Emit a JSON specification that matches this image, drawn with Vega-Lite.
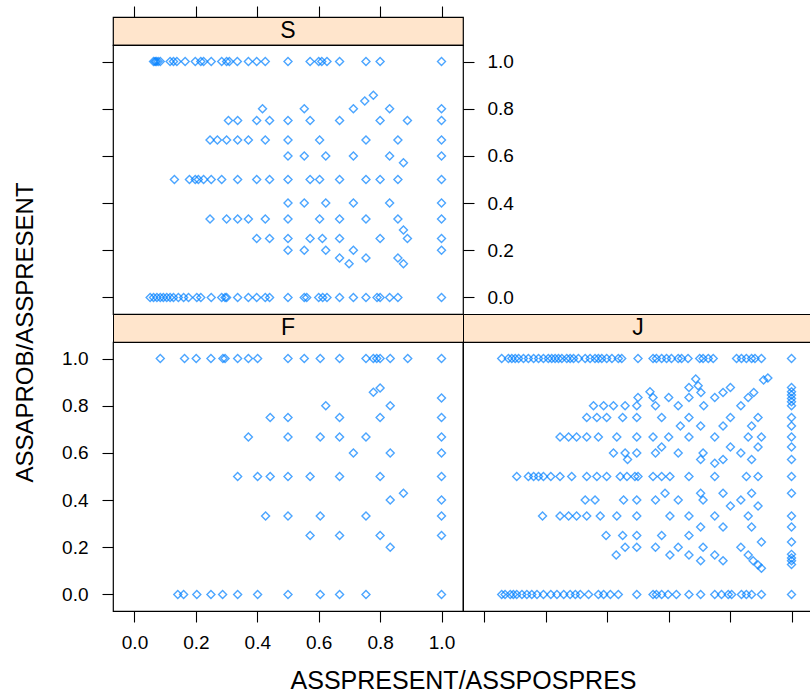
{
  "$schema": "https://vega.github.io/schema/vega-lite/v6.json",
  "padding": {"left": 12, "top": 4, "right": 0, "bottom": 0},
  "background": "white",
  "config": {
    "font": "Liberation Sans",
    "view": {"stroke": "black", "strokeWidth": 1.2},
    "axis": {"domain": false, "grid": false, "tickColor": "black", "tickSize": 11, "tickWidth": 1.1, "labelFont": "Liberation Sans", "labelFontSize": 19, "labelColor": "black", "titleFont": "Liberation Sans", "titleFontSize": 24, "titleFontWeight": "normal", "titleColor": "black"},
    "point": {"shape": "diamond", "filled": false, "color": "#0080ff", "size": 64, "strokeWidth": 1.4}
  },
  "datasets": {
    "S": [
      {"x":0.062,"y":1},{"x":0.067,"y":1},{"x":0.071,"y":1},{"x":0.077,"y":1},{"x":0.084,"y":1},{"x":0.116,"y":1},{"x":0.127,"y":1},{"x":0.138,"y":1},{"x":0.165,"y":1},{"x":0.198,"y":1},{"x":0.216,"y":1},{"x":0.225,"y":1},{"x":0.25,"y":1},{"x":0.284,"y":1},{"x":0.3,"y":1},{"x":0.309,"y":1},{"x":0.335,"y":1},{"x":0.371,"y":1},{"x":0.398,"y":1},{"x":0.426,"y":1},{"x":0.5,"y":1},{"x":0.572,"y":1},{"x":0.6,"y":1},{"x":0.61,"y":1},{"x":0.627,"y":1},{"x":0.668,"y":1},{"x":0.754,"y":1},{"x":0.8,"y":1},{"x":1,"y":1},
      {"x":0.778,"y":0.857},{"x":0.75,"y":0.833},
      {"x":0.417,"y":0.8},{"x":0.553,"y":0.8},{"x":0.713,"y":0.8},{"x":0.831,"y":0.8},{"x":1,"y":0.8},
      {"x":0.306,"y":0.75},{"x":0.336,"y":0.75},{"x":0.398,"y":0.75},{"x":0.44,"y":0.75},{"x":0.5,"y":0.75},{"x":0.572,"y":0.75},{"x":0.668,"y":0.75},{"x":0.8,"y":0.75},{"x":0.889,"y":0.75},{"x":1,"y":0.75},
      {"x":0.246,"y":0.667},{"x":0.27,"y":0.667},{"x":0.3,"y":0.667},{"x":0.336,"y":0.667},{"x":0.371,"y":0.667},{"x":0.426,"y":0.667},{"x":0.5,"y":0.667},{"x":0.603,"y":0.667},{"x":0.754,"y":0.667},{"x":0.858,"y":0.667},{"x":1,"y":0.667},
      {"x":0.5,"y":0.6},{"x":0.553,"y":0.6},{"x":0.623,"y":0.6},{"x":0.713,"y":0.6},{"x":0.831,"y":0.6},{"x":1,"y":0.6},
      {"x":0.876,"y":0.571},
      {"x":0.13,"y":0.5},{"x":0.179,"y":0.5},{"x":0.198,"y":0.5},{"x":0.208,"y":0.5},{"x":0.225,"y":0.5},{"x":0.25,"y":0.5},{"x":0.284,"y":0.5},{"x":0.336,"y":0.5},{"x":0.398,"y":0.5},{"x":0.44,"y":0.5},{"x":0.5,"y":0.5},{"x":0.572,"y":0.5},{"x":0.603,"y":0.5},{"x":0.668,"y":0.5},{"x":0.754,"y":0.5},{"x":0.8,"y":0.5},{"x":0.858,"y":0.5},{"x":1,"y":0.5},
      {"x":0.5,"y":0.4},{"x":0.553,"y":0.4},{"x":0.623,"y":0.4},{"x":0.713,"y":0.4},{"x":0.831,"y":0.4},{"x":1,"y":0.4},
      {"x":0.246,"y":0.333},{"x":0.3,"y":0.333},{"x":0.336,"y":0.333},{"x":0.371,"y":0.333},{"x":0.426,"y":0.333},{"x":0.5,"y":0.333},{"x":0.603,"y":0.333},{"x":0.668,"y":0.333},{"x":0.754,"y":0.333},{"x":0.858,"y":0.333},{"x":1,"y":0.333},
      {"x":0.876,"y":0.286},
      {"x":0.398,"y":0.25},{"x":0.44,"y":0.25},{"x":0.5,"y":0.25},{"x":0.572,"y":0.25},{"x":0.612,"y":0.25},{"x":0.668,"y":0.25},{"x":0.8,"y":0.25},{"x":0.889,"y":0.25},{"x":1,"y":0.25},
      {"x":0.5,"y":0.2},{"x":0.553,"y":0.2},{"x":0.623,"y":0.2},{"x":0.713,"y":0.2},{"x":1,"y":0.2},
      {"x":0.668,"y":0.167},{"x":0.754,"y":0.167},{"x":0.858,"y":0.167},
      {"x":0.699,"y":0.143},{"x":0.876,"y":0.143},
      {"x":0.051,"y":0},{"x":0.062,"y":0},{"x":0.073,"y":0},{"x":0.084,"y":0},{"x":0.094,"y":0},{"x":0.105,"y":0},{"x":0.116,"y":0},{"x":0.127,"y":0},{"x":0.143,"y":0},{"x":0.16,"y":0},{"x":0.176,"y":0},{"x":0.203,"y":0},{"x":0.216,"y":0},{"x":0.25,"y":0},{"x":0.284,"y":0},{"x":0.295,"y":0},{"x":0.3,"y":0},{"x":0.336,"y":0},{"x":0.371,"y":0},{"x":0.398,"y":0},{"x":0.426,"y":0},{"x":0.44,"y":0},{"x":0.5,"y":0},{"x":0.553,"y":0},{"x":0.561,"y":0},{"x":0.6,"y":0},{"x":0.613,"y":0},{"x":0.627,"y":0},{"x":0.668,"y":0},{"x":0.713,"y":0},{"x":0.754,"y":0},{"x":0.79,"y":0},{"x":0.8,"y":0},{"x":0.831,"y":0},{"x":0.858,"y":0},{"x":1,"y":0}
    ],
    "F": [
      {"x":0.084,"y":1},{"x":0.163,"y":1},{"x":0.201,"y":1},{"x":0.249,"y":1},{"x":0.288,"y":1},{"x":0.295,"y":1},{"x":0.336,"y":1},{"x":0.371,"y":1},{"x":0.401,"y":1},{"x":0.5,"y":1},{"x":0.553,"y":1},{"x":0.605,"y":1},{"x":0.668,"y":1},{"x":0.754,"y":1},{"x":0.778,"y":1},{"x":0.789,"y":1},{"x":0.8,"y":1},{"x":0.833,"y":1},{"x":0.89,"y":1},{"x":1,"y":1},
      {"x":0.8,"y":0.875},{"x":0.778,"y":0.857},{"x":1,"y":0.833},
      {"x":0.623,"y":0.8},{"x":0.833,"y":0.8},
      {"x":0.442,"y":0.75},{"x":0.5,"y":0.75},{"x":0.668,"y":0.75},{"x":0.8,"y":0.75},{"x":1,"y":0.75},
      {"x":0.371,"y":0.667},{"x":0.5,"y":0.667},{"x":0.605,"y":0.667},{"x":0.668,"y":0.667},{"x":0.754,"y":0.667},{"x":1,"y":0.667},
      {"x":0.713,"y":0.6},{"x":0.833,"y":0.6},{"x":1,"y":0.6},
      {"x":0.336,"y":0.5},{"x":0.401,"y":0.5},{"x":0.442,"y":0.5},{"x":0.5,"y":0.5},{"x":0.572,"y":0.5},{"x":0.668,"y":0.5},{"x":0.8,"y":0.5},{"x":1,"y":0.5},
      {"x":0.876,"y":0.429},{"x":0.833,"y":0.4},{"x":1,"y":0.4},
      {"x":0.427,"y":0.333},{"x":0.5,"y":0.333},{"x":0.605,"y":0.333},{"x":0.754,"y":0.333},{"x":1,"y":0.333},
      {"x":0.572,"y":0.25},{"x":0.668,"y":0.25},{"x":0.8,"y":0.25},{"x":1,"y":0.25},
      {"x":0.833,"y":0.2},
      {"x":0.141,"y":0},{"x":0.16,"y":0},{"x":0.203,"y":0},{"x":0.249,"y":0},{"x":0.287,"y":0},{"x":0.336,"y":0},{"x":0.401,"y":0},{"x":0.5,"y":0},{"x":0.605,"y":0},{"x":0.668,"y":0},{"x":0.754,"y":0},{"x":1,"y":0}
    ],
    "J": [
      {"x":0.056,"y":1},{"x":0.078,"y":1},{"x":0.089,"y":1},{"x":0.1,"y":1},{"x":0.111,"y":1},{"x":0.127,"y":1},{"x":0.143,"y":1},{"x":0.16,"y":1},{"x":0.176,"y":1},{"x":0.192,"y":1},{"x":0.208,"y":1},{"x":0.219,"y":1},{"x":0.23,"y":1},{"x":0.241,"y":1},{"x":0.252,"y":1},{"x":0.268,"y":1},{"x":0.279,"y":1},{"x":0.29,"y":1},{"x":0.306,"y":1},{"x":0.328,"y":1},{"x":0.344,"y":1},{"x":0.36,"y":1},{"x":0.371,"y":1},{"x":0.382,"y":1},{"x":0.398,"y":1},{"x":0.415,"y":1},{"x":0.436,"y":1},{"x":0.447,"y":1},{"x":0.5,"y":1},{"x":0.549,"y":1},{"x":0.56,"y":1},{"x":0.577,"y":1},{"x":0.593,"y":1},{"x":0.609,"y":1},{"x":0.631,"y":1},{"x":0.642,"y":1},{"x":0.663,"y":1},{"x":0.701,"y":1},{"x":0.712,"y":1},{"x":0.729,"y":1},{"x":0.745,"y":1},{"x":0.821,"y":1},{"x":0.837,"y":1},{"x":0.853,"y":1},{"x":0.87,"y":1},{"x":0.881,"y":1},{"x":0.902,"y":1},{"x":1,"y":1},
      {"x":0.909,"y":0.909},{"x":0.923,"y":0.917},{"x":0.688,"y":0.913},{"x":0.666,"y":0.877},{"x":0.696,"y":0.885},{"x":0.705,"y":0.856},{"x":0.801,"y":0.877},{"x":0.777,"y":0.856},{"x":0.75,"y":0.835},{"x":0.877,"y":0.856},{"x":0.859,"y":0.835},{"x":0.539,"y":0.859},{"x":0.549,"y":0.835},{"x":0.5,"y":0.835},{"x":0.6,"y":0.835},{"x":0.666,"y":0.835},
      {"x":1,"y":0.877},{"x":1,"y":0.859},{"x":1,"y":0.845},{"x":1,"y":0.831},{"x":1,"y":0.817},
      {"x":0.355,"y":0.8},{"x":0.388,"y":0.8},{"x":0.42,"y":0.8},{"x":0.458,"y":0.8},{"x":0.496,"y":0.8},{"x":0.557,"y":0.8},{"x":0.631,"y":0.8},{"x":0.714,"y":0.8},{"x":0.835,"y":0.8},{"x":1,"y":0.8},
      {"x":0.333,"y":0.75},{"x":0.366,"y":0.75},{"x":0.398,"y":0.75},{"x":0.45,"y":0.75},{"x":0.496,"y":0.75},{"x":0.577,"y":0.75},{"x":0.666,"y":0.75},{"x":0.801,"y":0.75},{"x":0.891,"y":0.75},{"x":1,"y":0.75},
      {"x":0.638,"y":0.714},{"x":0.704,"y":0.714},{"x":0.777,"y":0.714},{"x":0.87,"y":0.714},{"x":1,"y":0.714},
      {"x":0.246,"y":0.667},{"x":0.274,"y":0.667},{"x":0.3,"y":0.667},{"x":0.333,"y":0.667},{"x":0.371,"y":0.667},{"x":0.431,"y":0.667},{"x":0.496,"y":0.667},{"x":0.549,"y":0.667},{"x":0.6,"y":0.667},{"x":0.666,"y":0.667},{"x":0.75,"y":0.667},{"x":0.859,"y":0.667},{"x":0.902,"y":0.667},{"x":1,"y":0.667},
      {"x":0.577,"y":0.625},{"x":0.801,"y":0.625},{"x":0.891,"y":0.625},{"x":1,"y":0.625},
      {"x":0.42,"y":0.6},{"x":0.458,"y":0.6},{"x":0.496,"y":0.6},{"x":0.557,"y":0.6},{"x":0.631,"y":0.6},{"x":0.712,"y":0.6},{"x":0.835,"y":0.6},
      {"x":0.466,"y":0.572},{"x":0.704,"y":0.572},{"x":0.777,"y":0.572},{"x":0.87,"y":0.572},{"x":1,"y":0.572},{"x":0.75,"y":0.556},
      {"x":0.105,"y":0.5},{"x":0.143,"y":0.5},{"x":0.16,"y":0.5},{"x":0.176,"y":0.5},{"x":0.192,"y":0.5},{"x":0.216,"y":0.5},{"x":0.246,"y":0.5},{"x":0.284,"y":0.5},{"x":0.333,"y":0.5},{"x":0.366,"y":0.5},{"x":0.398,"y":0.5},{"x":0.442,"y":0.5},{"x":0.464,"y":0.5},{"x":0.49,"y":0.5},{"x":0.5,"y":0.5},{"x":0.549,"y":0.5},{"x":0.577,"y":0.5},{"x":0.604,"y":0.5},{"x":0.666,"y":0.5},{"x":0.75,"y":0.5},{"x":0.853,"y":0.5},{"x":0.891,"y":0.5},{"x":1,"y":0.5},
      {"x":0.588,"y":0.429},{"x":0.704,"y":0.429},{"x":0.777,"y":0.429},{"x":0.87,"y":0.429},{"x":1,"y":0.429},
      {"x":0.328,"y":0.4},{"x":0.36,"y":0.4},{"x":0.453,"y":0.4},{"x":0.496,"y":0.4},{"x":0.557,"y":0.4},{"x":0.631,"y":0.4},{"x":0.712,"y":0.4},{"x":0.835,"y":0.4},
      {"x":0.801,"y":0.375},{"x":0.891,"y":0.375},
      {"x":0.189,"y":0.333},{"x":0.246,"y":0.333},{"x":0.274,"y":0.333},{"x":0.3,"y":0.333},{"x":0.333,"y":0.333},{"x":0.377,"y":0.333},{"x":0.431,"y":0.333},{"x":0.496,"y":0.333},{"x":0.604,"y":0.333},{"x":0.666,"y":0.333},{"x":0.75,"y":0.333},{"x":0.859,"y":0.333},{"x":1,"y":0.333},
      {"x":0.704,"y":0.286},{"x":0.777,"y":0.286},{"x":0.87,"y":0.286},{"x":1,"y":0.286},
      {"x":0.396,"y":0.25},{"x":0.45,"y":0.25},{"x":0.496,"y":0.25},{"x":0.577,"y":0.25},{"x":0.666,"y":0.25},
      {"x":0.902,"y":0.222},{"x":1,"y":0.222},
      {"x":0.458,"y":0.2},{"x":0.496,"y":0.2},{"x":0.557,"y":0.2},{"x":0.631,"y":0.2},{"x":0.712,"y":0.2},{"x":0.835,"y":0.2},
      {"x":0.429,"y":0.167},{"x":0.604,"y":0.167},{"x":0.666,"y":0.167},{"x":0.75,"y":0.167},{"x":0.859,"y":0.167},{"x":1,"y":0.17},
      {"x":0.704,"y":0.143},{"x":0.777,"y":0.143},{"x":0.875,"y":0.143},{"x":1,"y":0.143},
      {"x":0.891,"y":0.125},{"x":0.902,"y":0.111},{"x":1,"y":0.155},{"x":1,"y":0.127},
      {"x":0.056,"y":0},{"x":0.067,"y":0},{"x":0.084,"y":0},{"x":0.094,"y":0},{"x":0.105,"y":0},{"x":0.122,"y":0},{"x":0.138,"y":0},{"x":0.154,"y":0},{"x":0.171,"y":0},{"x":0.192,"y":0},{"x":0.216,"y":0},{"x":0.236,"y":0},{"x":0.258,"y":0},{"x":0.279,"y":0},{"x":0.296,"y":0},{"x":0.312,"y":0},{"x":0.339,"y":0},{"x":0.371,"y":0},{"x":0.388,"y":0},{"x":0.41,"y":0},{"x":0.436,"y":0},{"x":0.496,"y":0},{"x":0.549,"y":0},{"x":0.56,"y":0},{"x":0.577,"y":0},{"x":0.598,"y":0},{"x":0.625,"y":0},{"x":0.666,"y":0},{"x":0.704,"y":0},{"x":0.75,"y":0},{"x":0.772,"y":0},{"x":0.794,"y":0},{"x":0.805,"y":0},{"x":0.837,"y":0},{"x":0.853,"y":0},{"x":0.87,"y":0},{"x":0.902,"y":0},{"x":1,"y":0}
    ]
  },
  "columns": 2,
  "bounds": "flush",
  "spacing": 0,
  "concat": [
    {
      "width": 350, "height": 28,
      "view": {"fill": "#ffe5cc", "stroke": "black"},
      "data": {"values": [{"panel": "S"}]},
      "mark": {"type": "text", "fontSize": 23, "color": "black", "baseline": "middle", "align": "center", "font": "Liberation Sans"},
      "encoding": {
        "text": {"field": "panel"},
        "x": {"datum": 0.5, "type": "quantitative", "scale": {"domain": [-0.07, 1.07], "nice": false, "zero": false}, "axis": {"orient": "top", "labels": false, "title": null, "values": [0, 0.2, 0.4, 0.6, 0.8, 1]}}
      }
    },
    {
      "width": 350, "height": 28,
      "view": {"stroke": null},
      "data": {"values": [{"panel": ""}]},
      "mark": {"type": "text"},
      "encoding": {"text": {"value": ""}}
    },
    {
      "width": 350, "height": 269,
      "data": {"name": "S"},
      "layer": [
        {
          "mark": "point",
          "encoding": {
            "x": {"field": "x", "type": "quantitative", "scale": {"domain": [-0.07, 1.07], "nice": false, "zero": false}, "axis": null},
            "y": {"field": "y", "type": "quantitative", "scale": {"domain": [-0.07, 1.07], "nice": false, "zero": false}, "axis": {"orient": "left", "labels": false, "title": null, "values": [0, 0.2, 0.4, 0.6, 0.8, 1]}}
          }
        },
        {
          "mark": {"type": "point", "opacity": 0},
          "encoding": {
            "x": {"field": "x", "type": "quantitative", "axis": null},
            "y": {"field": "y", "type": "quantitative", "axis": {"orient": "right", "title": null, "values": [0, 0.2, 0.4, 0.6, 0.8, 1], "format": ".1f", "labelPadding": 13}}
          }
        }
      ],
      "resolve": {"axis": {"y": "independent"}}
    },
    {
      "width": 350, "height": 269,
      "view": {"stroke": null},
      "data": {"values": [{"panel": ""}]},
      "mark": {"type": "text"},
      "encoding": {"text": {"value": ""}}
    },
    {
      "width": 350, "height": 28,
      "view": {"fill": "#ffe5cc", "stroke": "black"},
      "data": {"values": [{"panel": "F"}]},
      "mark": {"type": "text", "fontSize": 23, "color": "black", "baseline": "middle", "align": "center", "font": "Liberation Sans"},
      "encoding": {"text": {"field": "panel"}}
    },
    {
      "width": 350, "height": 28,
      "view": {"fill": "#ffe5cc", "stroke": "black"},
      "data": {"values": [{"panel": "J"}]},
      "mark": {"type": "text", "fontSize": 23, "color": "black", "baseline": "middle", "align": "center", "font": "Liberation Sans"},
      "encoding": {"text": {"field": "panel"}}
    },
    {
      "width": 350, "height": 269,
      "data": {"name": "F"},
      "mark": "point",
      "encoding": {
        "x": {"field": "x", "type": "quantitative", "scale": {"domain": [-0.07, 1.07], "nice": false, "zero": false}, "axis": {"orient": "bottom", "values": [0, 0.2, 0.4, 0.6, 0.8, 1], "format": ".1f", "labelPadding": 11, "title": "ASSPRESENT/ASSPOSPRES", "titleFontSize": 25, "titleX": 350, "titleY": 69, "titleAlign": "center", "titleBaseline": "middle"}},
        "y": {"field": "y", "type": "quantitative", "scale": {"domain": [-0.07, 1.07], "nice": false, "zero": false}, "axis": {"orient": "left", "values": [0, 0.2, 0.4, 0.6, 0.8, 1], "format": ".1f", "labelPadding": 14, "title": "ASSAPROB/ASSPRESENT", "titleX": -88, "titleY": -10, "titleAngle": 270, "titleAlign": "center", "titleBaseline": "middle"}}
      }
    },
    {
      "width": 350, "height": 269,
      "data": {"name": "J"},
      "mark": "point",
      "encoding": {
        "x": {"field": "x", "type": "quantitative", "scale": {"domain": [-0.07, 1.07], "nice": false, "zero": false}, "axis": {"orient": "bottom", "values": [0, 0.2, 0.4, 0.6, 0.8, 1], "labels": false, "title": null}},
        "y": {"field": "y", "type": "quantitative", "scale": {"domain": [-0.07, 1.07], "nice": false, "zero": false}, "axis": null}
      }
    }
  ]
}
